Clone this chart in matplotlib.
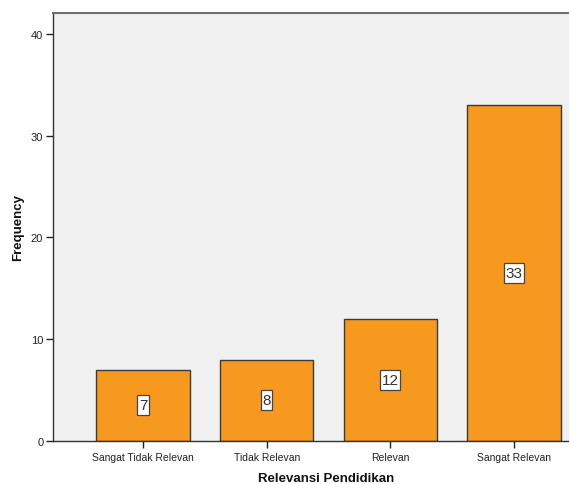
import matplotlib
matplotlib.use("Agg")
import matplotlib.pyplot as plt
from matplotlib import font_manager
from matplotlib.patches import Rectangle

categories = ["Sangat Tidak Relevan", "Tidak Relevan", "Relevan", "Sangat Relevan"]
counts = [7, 8, 12, 33]
yticks = [0, 10, 20, 30, 40]

W, H = 569, 485
fig = plt.figure(figsize=(W / 100, H / 100), dpi=100)
plt.rcParams["font.family"] = ["Liberation Sans", "DejaVu Sans"]

installed = {f.name for f in font_manager.fontManager.ttflist}
label_family = ["Liberation Sans Narrow"] if "Liberation Sans Narrow" in installed else ["Liberation Sans"]

# axes box in pixels: left 53, top 14, bottom 442; right edge runs past the figure
left, top, bottom = 53, 14, 442
spacing = 123.7
x0 = 143
right_px = x0 + 3.73 * spacing
ax = fig.add_axes([left / W, 1 - bottom / H, (right_px - left) / W, (bottom - top) / H])
ax.set_facecolor("#F0F0F0")

xs = list(range(len(categories)))
ax.bar(xs, counts, width=0.756, color="#F7991F", edgecolor="#3A3A3A", linewidth=1.0, zorder=2)
labels = []
for x, v in zip(xs, counts):
    t = ax.text(x, v / 2, str(v), ha="center", va="center", fontsize=11, color="#333333",
                family=label_family, zorder=4)
    labels.append(t)

ax.set_xlim(-(x0 - left) / spacing, 3.73)
ax.set_ylim(0, 42.06)
ax.set_yticks(yticks)
ax.set_xticks(xs)
ax.set_xticklabels(categories)
ax.tick_params(axis="both", labelsize=7.5, colors="#222222", length=5, width=1.0, direction="out")
ax.tick_params(axis="y", labelsize=8, pad=2)
ax.tick_params(axis="x", pad=3)

for name in ["left", "bottom"]:
    ax.spines[name].set_color("#333333")
    ax.spines[name].set_linewidth(1.0)
ax.spines["top"].set_color("#6E6E6E")
ax.spines["top"].set_linewidth(1.5)
ax.spines["right"].set_visible(False)

fig.text(326 / W, 1 - 479 / H, "Relevansi Pendidikan", ha="center", va="center",
         fontsize=9.5, fontweight="bold", color="#111111")
fig.text(18 / W, 1 - 228 / H, "Frequency", ha="center", va="center", rotation=90,
         fontsize=9.5, fontweight="bold", color="#111111")

# white boxes around the value labels, a little taller than the glyphs
fig.canvas.draw()
renderer = fig.canvas.get_renderer()
for t in labels:
    bb = t.get_window_extent(renderer)
    cx, cy = (bb.x0 + bb.x1) / 2, (bb.y0 + bb.y1) / 2
    w = bb.width + 3
    h = 20
    rect = Rectangle(((cx - w / 2) / W, (cy - h / 2) / H), w / W, h / H,
                     transform=fig.transFigure, facecolor="white", edgecolor="#444444",
                     linewidth=0.9, zorder=3)
    ax.add_artist(rect)
    rect.set_clip_on(False)

fig.savefig("out.png", dpi=100)
